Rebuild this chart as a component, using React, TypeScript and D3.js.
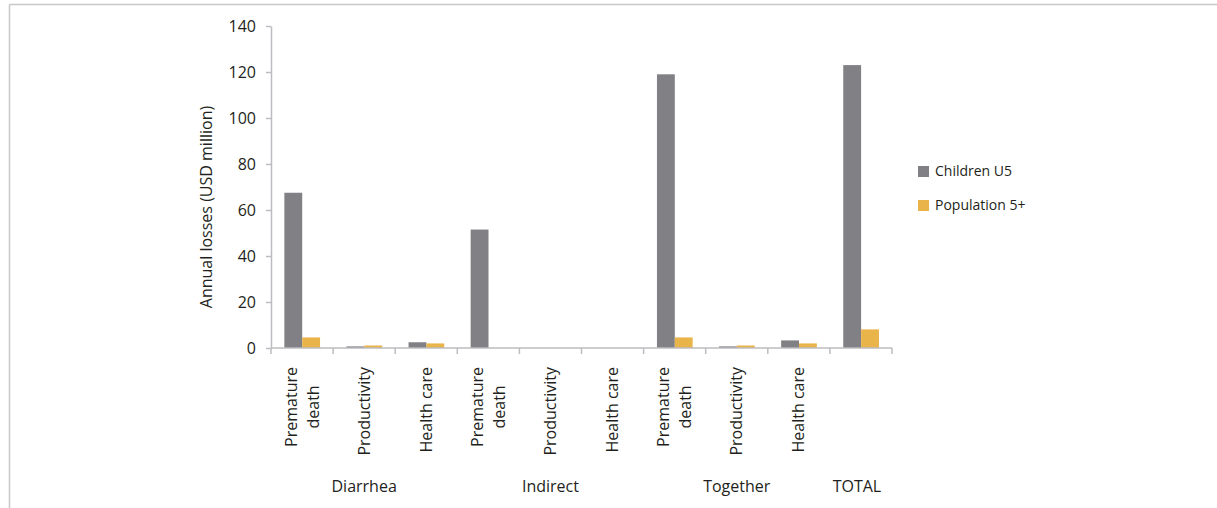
import React, { useEffect, useRef } from 'react'
import * as d3 from 'd3'

const categories = ['d-pd', 'd-pr', 'd-hc', 'i-pd', 'i-pr', 'i-hc', 't-pd', 't-pr', 't-hc', 'total']
const categoryLabels: string[][] = [
  ['Premature', 'death'], ['Productivity'], ['Health care'],
  ['Premature', 'death'], ['Productivity'], ['Health care'],
  ['Premature', 'death'], ['Productivity'], ['Health care'],
  []
]
const groups = ['Diarrhea', 'Indirect', 'Together', 'TOTAL']
const groupSpans = [[0, 3], [3, 6], [6, 9], [9, 10]]

const seriesNames = ['Children U5', 'Population 5+']
const childrenU5 = [67.5, 0.7, 2.5, 51.5, 0, 0, 119, 0.7, 3.3, 123]
const population5 = [4.6, 1.1, 2.0, 0, 0, 0, 4.6, 1.1, 2.0, 8.1]
const yTicks = [0, 20, 40, 60, 80, 100, 120, 140]

const colors = ['#818185', '#E9B449']
const FONT = '"Open Sans", sans-serif'
const TEXT = '#231F20'
const AXIS = '#BDBDC1'

export default function App() {
  const svgRef = useRef<SVGSVGElement>(null)

  useEffect(() => {
    if (!svgRef.current) return
    const svg = d3.select(svgRef.current)
    svg.selectAll('*').remove()

    const left = 271, right = 892, top = 26, bottom = 348

    // outer frame (top and left only visible)
    svg.append('line').attr('x1', 9.5).attr('x2', 1217).attr('y1', 4.5).attr('y2', 4.5)
      .attr('stroke', '#C8C8C8').attr('stroke-width', 1.5)
    svg.append('line').attr('x1', 9.5).attr('x2', 9.5).attr('y1', 4.5).attr('y2', 508)
      .attr('stroke', '#C8C8C8').attr('stroke-width', 1.5)

    const x0 = d3.scaleBand().domain(categories).range([left, right]).paddingInner(0).paddingOuter(0)
    const bw = x0.bandwidth()
    const x1 = d3.scaleBand().domain(seriesNames).range([bw * 0.215, bw * 0.79]).padding(0)
    const y = d3.scaleLinear().domain([0, 140]).range([bottom, top])

    const g = svg.append('g')

    // bars
    const series = [childrenU5, population5]
    series.forEach((vals, si) => {
      g.selectAll(`.bar-${si}`)
        .data(vals)
        .enter()
        .append('rect')
        .attr('x', (d, i) => (x0(categories[i]) as number) + (x1(seriesNames[si]) as number))
        .attr('y', d => y(d))
        .attr('width', x1.bandwidth())
        .attr('height', d => bottom - y(d))
        .attr('fill', colors[si])
    })

    // y axis
    const yAxis = g.append('g')
      .attr('transform', `translate(${left},0)`)
      .call(d3.axisLeft(y).tickValues(yTicks).tickSize(5).tickSizeOuter(0).tickPadding(10))
    yAxis.select('.domain').attr('stroke', AXIS).attr('stroke-width', 1.5)
    yAxis.selectAll('.tick line').attr('stroke', AXIS).attr('stroke-width', 1.5)
    yAxis.selectAll('.tick text')
      .style('font-family', FONT).style('font-size', '16px').attr('fill', TEXT)

    // x axis line with boundary ticks
    g.append('line').attr('x1', left).attr('x2', right).attr('y1', bottom).attr('y2', bottom)
      .attr('stroke', AXIS).attr('stroke-width', 1.5)
    const bounds = categories.map(c => x0(c) as number).concat([right])
    g.selectAll('.xtick').data(bounds).enter().append('line')
      .attr('x1', d => d).attr('x2', d => d).attr('y1', bottom).attr('y2', bottom + 6)
      .attr('stroke', AXIS).attr('stroke-width', 1.5)

    // rotated category labels
    const labelTop = 367
    categoryLabels.forEach((lines, i) => {
      if (!lines.length) return
      const cx = (x0(categories[i]) as number) + bw / 2
      const lg = g.append('g').attr('transform', `translate(${cx},${labelTop}) rotate(-90)`)
      if (lines.length === 1) {
        lg.append('text').attr('x', 0).attr('y', 0).attr('dy', '0.35em')
          .attr('text-anchor', 'end').style('font-family', FONT).style('font-size', '16px')
          .attr('fill', TEXT).text(lines[0])
      } else {
        const first = lg.append('text').attr('x', 0).attr('y', -11).attr('dy', '0.35em')
          .attr('text-anchor', 'end').style('font-family', FONT).style('font-size', '16px')
          .attr('fill', TEXT).text(lines[0])
        const len = (first.node() as SVGTextElement).getComputedTextLength()
        lg.append('text').attr('x', -len / 2).attr('y', 11).attr('dy', '0.35em')
          .attr('text-anchor', 'middle').style('font-family', FONT).style('font-size', '16px')
          .attr('fill', TEXT).text(lines[1])
      }
    })

    // group labels
    groups.forEach((name, i) => {
      const [a, b] = groupSpans[i]
      const cx = ((x0(categories[a]) as number) + (b < categories.length ? (x0(categories[b]) as number) : right)) / 2
      g.append('text').attr('x', i === 3 ? cx - 4 : cx).attr('y', 486).attr('dy', '0.35em')
        .attr('text-anchor', 'middle').style('font-family', FONT).style('font-size', '16px')
        .attr('fill', TEXT).text(name)
    })

    // y axis title
    g.append('text')
      .attr('transform', `translate(206,207) rotate(-90)`)
      .attr('dy', '0.35em')
      .attr('text-anchor', 'middle')
      .style('font-family', FONT).style('font-size', '16px').attr('fill', TEXT)
      .text('Annual losses (USD million)')

    // legend
    const legend = g.append('g').attr('transform', 'translate(918,166)')
    seriesNames.forEach((name, i) => {
      const item = legend.append('g').attr('transform', `translate(0,${i * 34})`)
      item.append('rect').attr('width', 11).attr('height', 11).attr('fill', colors[i])
      item.append('text').attr('x', 17).attr('y', 5.5).attr('dy', '0.35em')
        .style('font-family', FONT).style('font-size', '14px').attr('fill', TEXT).text(name)
    })
  }, [])

  return (
    <div style={{ position: 'absolute', left: 0, top: 0, background: '#fff' }}>
      <svg ref={svgRef} width={1217} height={508} style={{ display: 'block' }} />
    </div>
  )
}
